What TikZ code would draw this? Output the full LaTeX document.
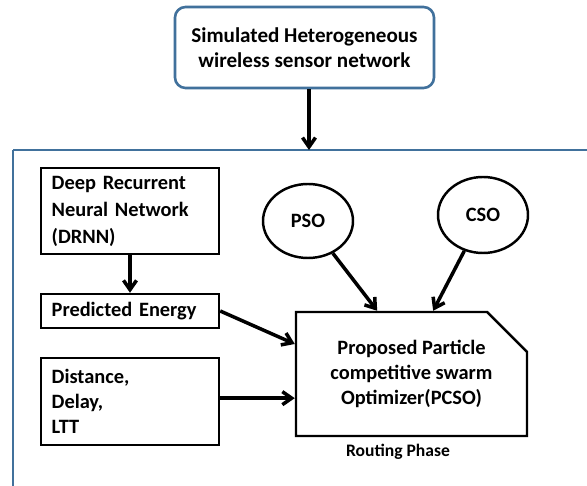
\documentclass[tikz,border=0pt]{standalone}
\usepackage{fontspec}
\setmainfont{Carlito}
\usetikzlibrary{calc, arrows.meta, positioning, shapes.geometric, shapes.misc}
\definecolor{frameblue}{RGB}{65,113,156}

\begin{document}
\begin{tikzpicture}[x=0.03cm,y=-0.03cm,
        every node/.style={font=\bfseries\fontsize{17.4}{21.6}\selectfont},
        box/.style={draw,line width=2.1pt,text width=4.7cm,align=left,inner sep=0pt,minimum width=5.34cm},
        oval/.style={draw,ellipse,line width=2.1pt,minimum width=2.7cm},
        arr/.style={line width=3pt,-{Straight Barb[length=2.8mm,width=3.9mm]}}]
        \clip (0,0) rectangle (587,486);
        \useasboundingbox (0,0) rectangle (587,486);
        \fill[white] (0,0) rectangle (587,486);

        % outer frame
        \draw[color=frameblue,line width=2pt] (13,150) -- (620,150);
        \draw[color=frameblue,line width=2pt] (13,150) -- (13,520);
        \coordinate (frametop) at (309,150);

        \node [draw=frameblue,line width=2.2pt,rounded corners=9pt,align=center,
               font=\bfseries\fontsize{18}{21.6}\selectfont,
               minimum width=7.77cm,minimum height=2.43cm] (wsn) at (304.5,47.5)
               {Simulated Heterogeneous\\wireless sensor network};

        \node [box,minimum height=2.58cm,font=\bfseries\fontsize{17.4}{23}\selectfont] (drnn) at (130,211)
               {Deep Recurrent\\Neural Network\\(DRNN)};
        \node [box,minimum height=1.02cm] (energy) at (130,311) {Predicted Energy};
        \node [box,minimum height=2.61cm] (metrics) at (130,401.5)
               {Distance,\\Delay,\\LTT};

        \node [oval,minimum height=2.22cm] (pso) at (308,221) {PSO};
        \node [oval,minimum height=2.28cm] (cso) at (483,215) {CSO};

        \node [draw,line width=2.1pt,chamfered rectangle,chamfered rectangle corners=north east,
               chamfered rectangle xsep=0.6cm,chamfered rectangle ysep=0.6cm,inner sep=0pt,
               align=center,minimum width=6.93cm,minimum height=3.72cm] (pcso) at (411.5,374)
               {Proposed Particle\\competitive swarm\\Optimizer(PCSO)};
        \node [font=\bfseries\fontsize{15}{17}\selectfont] (phase) at (398,452) {Routing Phase};

        \draw [arr] (wsn.south -| frametop) -- (frametop);
        \draw [arr] (drnn.south) -- (energy.north);
        \draw [arr] (energy.east) -- ([yshift=0.9cm]pcso.west);
        \draw [arr] ([yshift=0.1cm]metrics.east) -- ([yshift=0.1cm]metrics.east -| pcso.west);
        \draw [arr] (pso) -- ([xshift=-1.03cm]pcso.north);
        \draw [arr] (cso) -- ([xshift=0.65cm]pcso.north);
\end{tikzpicture}
\end{document}
